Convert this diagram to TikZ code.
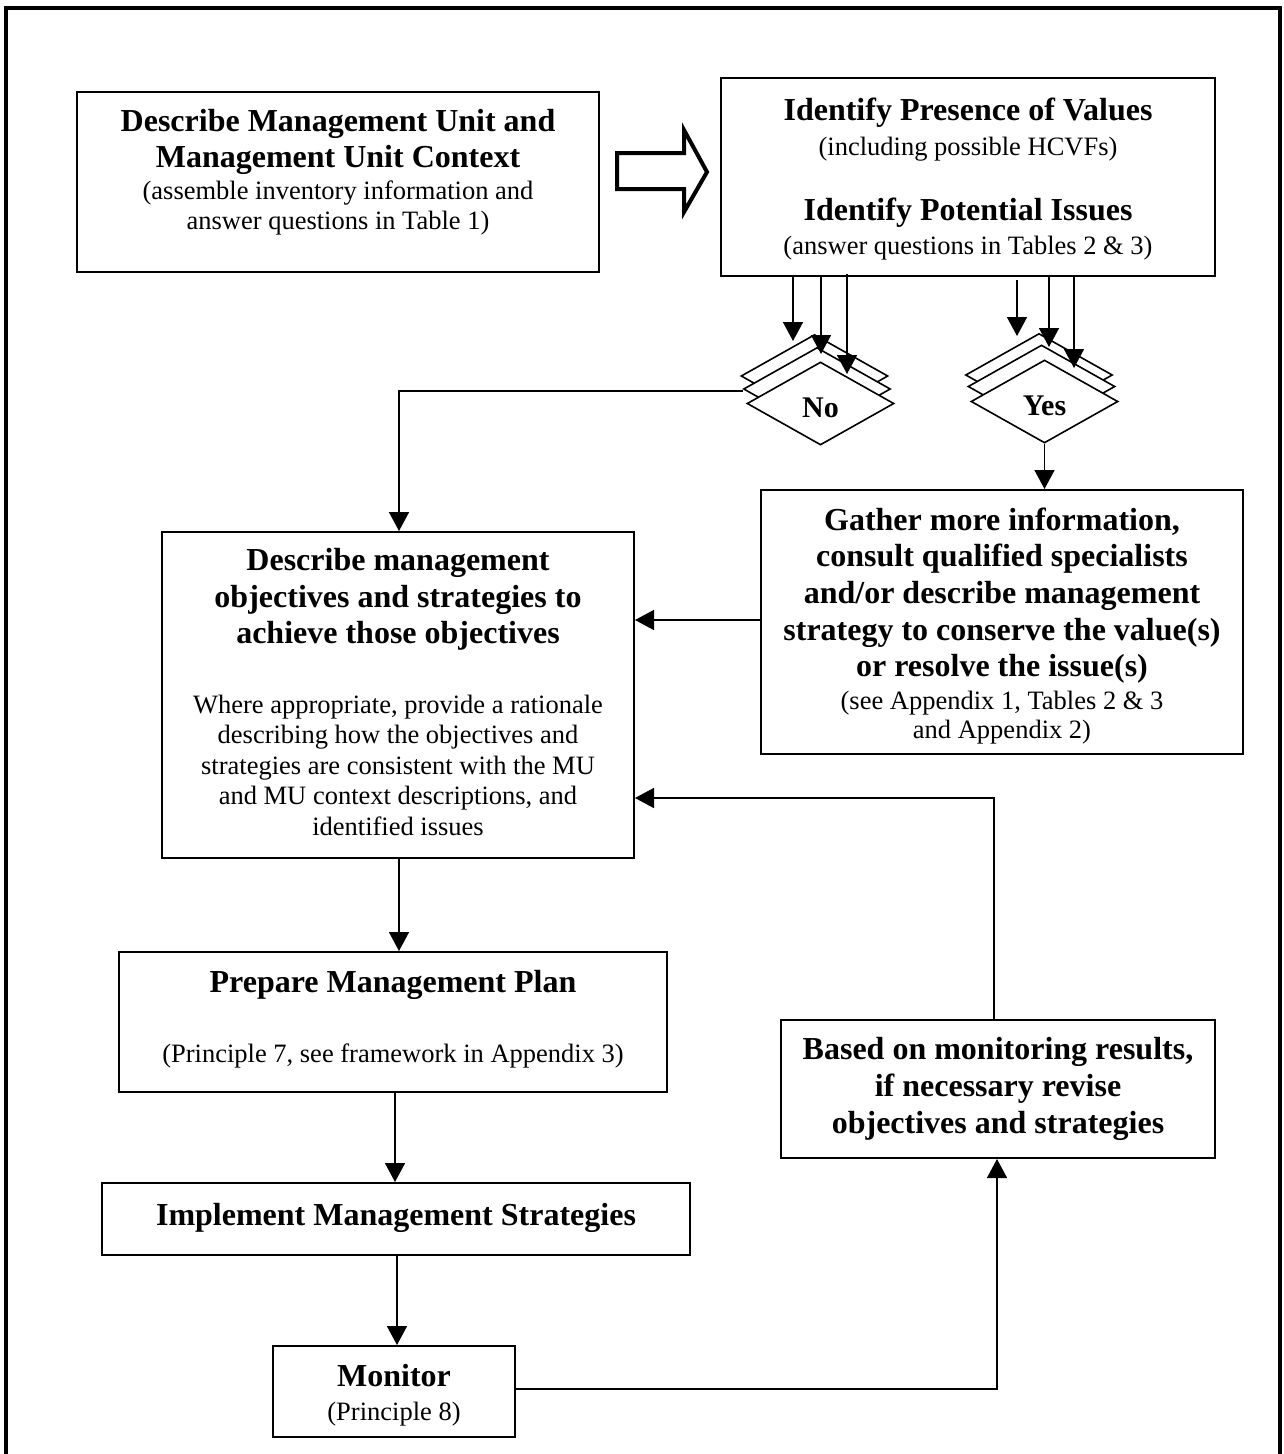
\documentclass[tikz,border=0pt]{standalone}
\usepackage{fontspec}
\setmainfont{Liberation Serif}
\usetikzlibrary{arrows.meta,shapes.geometric,calc}
\begin{document}
\begin{tikzpicture}[x=1pt,y=-1pt,
  box/.style={draw,line width=2pt,rectangle,inner sep=0pt},
  dia/.style={draw,line width=1.6pt,diamond,fill=white,minimum width=147pt,minimum height=83pt,inner sep=0pt},
  bt/.style={font=\fontsize{32}{36}\selectfont\bfseries,anchor=base,inner sep=0pt},
  nt/.style={font=\fontsize{26.5}{30}\selectfont,anchor=base,inner sep=0pt},
  dt/.style={font=\fontsize{30}{32}\selectfont\bfseries,anchor=base,inner sep=0pt},
  conn/.style={line width=1.6pt,-{Triangle[length=19pt,width=20pt]}},
  plain/.style={line width=1.6pt},
]
\useasboundingbox (0,0) rectangle (1284,1454);
% frame
\draw[line width=3.5pt] (6,1454) -- (6,8) -- (1280,8) -- (1280,1454);

% boxes
\node[box,minimum width=522pt,minimum height=180pt] (b1) at (338,182) {};
\node[box,minimum width=494pt,minimum height=198pt] (b2) at (968,177) {};
\node[box,minimum width=482pt,minimum height=264pt] (b4) at (1002,622) {};
\node[box,minimum width=472pt,minimum height=326pt] (b3) at (398,695) {};
\node[box,minimum width=548pt,minimum height=140pt] (b5) at (393,1022) {};
\node[box,minimum width=588pt,minimum height=72pt] (b6) at (396,1219) {};
\node[box,minimum width=242pt,minimum height=91pt] (b7) at (394,1391.5) {};
\node[box,minimum width=434pt,minimum height=138pt] (b8) at (998,1089) {};

% box 1 text
\node[bt] (t1a) at (338,131) {Describe Management Unit and};
\node[bt] (t1b) at (338,167.5) {Management Unit Context};
\node[nt] (t1c) at (338,199) {(assemble inventory information and};
\node[nt] (t1d) at (338,229) {answer questions in Table 1)};

% box 2 text
\node[bt] (t2a) at (968,120) {Identify Presence of Values};
\node[nt] (t2b) at (968,155) {(including possible HCVFs)};
\node[bt] (t2c) at (968,220) {Identify Potential Issues};
\node[nt] (t2d) at (968,254) {(answer questions in Tables 2 \& 3)};

% box 4 text
\node[bt] (t4a) at (1002,530) {Gather more information,};
\node[bt] (t4b) at (1002,566.5) {consult qualified specialists};
\node[bt] (t4c) at (1002,603) {and/or describe management};
\node[bt] (t4d) at (1002,640) {strategy to conserve the value(s)};
\node[bt] (t4e) at (1002,676) {or resolve the issue(s)};
\node[nt] (t4f) at (1002,709) {(see Appendix 1, Tables 2 \& 3};
\node[nt] (t4g) at (1002,738) {and Appendix 2)};

% box 3 text
\node[bt] (t3a) at (398,570) {Describe management};
\node[bt] (t3b) at (398,607) {objectives and strategies to};
\node[bt] (t3c) at (398,643) {achieve those objectives};
\node[nt] (t3d) at (398,713) {Where appropriate, provide a rationale};
\node[nt] (t3e) at (398,743.5) {describing how the objectives and};
\node[nt] (t3f) at (398,774) {strategies are consistent with the MU};
\node[nt] (t3g) at (398,804.5) {and MU context descriptions, and};
\node[nt] (t3h) at (398,835) {identified issues};

% box 5,6,7,8 text
\node[bt] (t5a) at (393,992) {Prepare Management Plan};
\node[nt] (t5b) at (393,1062) {(Principle 7, see framework in Appendix 3)};
\node[bt] (t6a) at (396,1225) {Implement Management Strategies};
\node[bt] (t7a) at (394,1386) {Monitor};
\node[nt] (t7b) at (394,1420) {(Principle 8)};
\node[bt] (t8a) at (998,1059) {Based on monitoring results,};
\node[bt] (t8b) at (998,1096) {if necessary revise};
\node[bt] (t8c) at (998,1133) {objectives and strategies};

% hollow arrow between b1 and b2
\draw[line width=4pt,fill=white,line join=miter] (617,153) -- (684,153) -- (684,130) -- (707,172) -- (684,212) -- (684,189) -- (617,189) -- cycle;

% diamonds (No)
\node[dia] (noA) at (814.5,376) {};
\node[dia] (noB) at (817,389) {};
\node[dia] (noC) at (820.5,403.5) {};
\node[dt] (tno) at (820.5,417) {No};
% diamonds (Yes)
\node[dia] (yesA) at (1039,375) {};
\node[dia] (yesB) at (1041.5,386.5) {};
\node[dia] (yesC) at (1044.5,401.5) {};
\node[dt] (tyes) at (1044.5,415) {Yes};

% arrows into diamonds
\coordinate (n1) at (793,341);
\coordinate (n2) at (821,354);
\coordinate (n3) at (847,374);
\coordinate (y1) at (1017,336);
\coordinate (y2) at (1049,347);
\coordinate (y3) at (1074,368);
\draw[conn] (b2.south -| n1) -- (n1);
\draw[conn] (b2.south -| n2) -- (n2);
\draw[conn] ($(b2.south -| n3)+(0,-3)$) -- (n3);
\draw[conn] ($(b2.south -| y1)+(0,3)$) -- (y1);
\draw[conn] (b2.south -| y2) -- (y2);
\draw[conn] (b2.south -| y3) -- (y3);

% No -> b3
\coordinate (nocorner) at (399,391);
\draw[conn] (noB.west |- nocorner) -- (nocorner) -- (nocorner |- b3.north);
% Yes -> b4
\draw[conn] (yesC.south) -- (yesC.south |- b4.north);
% b4 -> b3
\draw[conn] (b4.west |- 0,620) -- (b3.east |- 0,620);
% b3 -> b5 -> b6 -> b7
\draw[conn] (b3.south -| 399,0) -- (b5.north -| 399,0);
\draw[conn] (b5.south -| 395,0) -- (b6.north -| 395,0);
\draw[conn] (b6.south -| 397,0) -- (b7.north -| 397,0);
% b7 -> b8
\draw[conn] (b7.east |- 0,1389) -| (b8.south -| 997,0);
% b8 -> b3 (loop)
\draw[conn] (b8.north -| 994,0) |- (b3.east |- 0,798);
\end{tikzpicture}
\end{document}
